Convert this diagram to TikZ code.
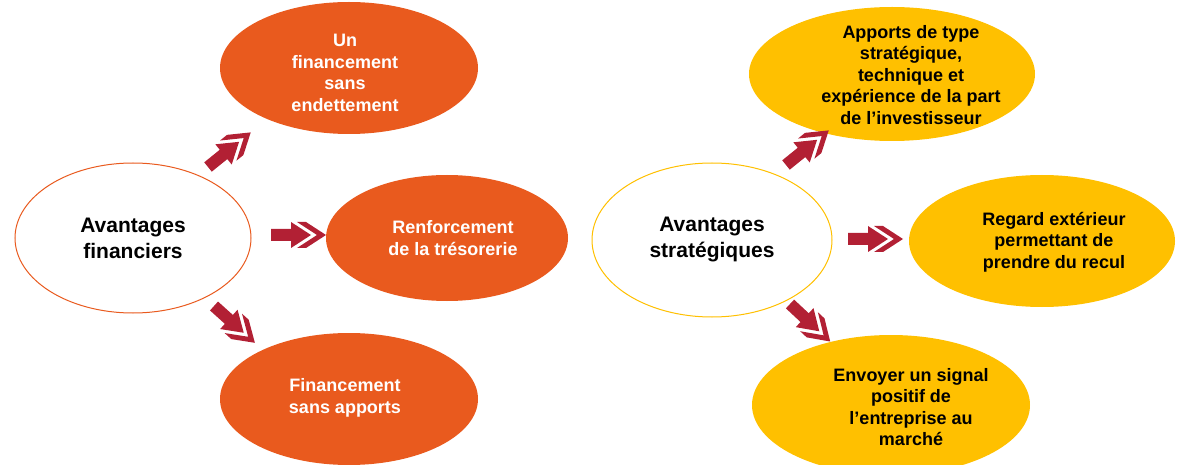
\documentclass[tikz,border=0pt]{standalone}
\usepackage{fontspec}
\setmainfont{Liberation Sans}
\usetikzlibrary{shapes.geometric}
\definecolor{orangeF}{RGB}{233,90,30}
\definecolor{yellowF}{RGB}{255,192,0}
\definecolor{arrowred}{RGB}{178,32,52}
\tikzset{
  bigtxt/.style={font=\bfseries\fontsize{21}{26}\selectfont, align=center, text=black},
  smalltxt/.style={font=\bfseries\fontsize{18}{21.5}\selectfont, align=center},
  whitetxt/.style={smalltxt, text=white},
  blacktxt/.style={smalltxt, text=black},
  oval/.style={ellipse, inner sep=0pt},
  whiteoval/.style={oval, draw, line width=1pt, fill=white},
  orangeoval/.style={oval, fill=orangeF},
  yellowoval/.style={oval, fill=yellowF},
  pics/dblarrow/.style={code={
    \fill[arrowred] (0,6) -- (20,6) -- (20,13) -- (40,0) -- (20,-13) -- (20,-6) -- (0,-6) -- cycle;
    \fill[arrowred] (26,13) -- (35,13) -- (55,0) -- (35,-13) -- (26,-13) -- (46,0) -- cycle;
  }}
}
\begin{document}
\begin{tikzpicture}[x=1pt,y=-1pt]
\useasboundingbox (0,0) rectangle (1189,465);
% left group
\node[whiteoval, draw=orangeF, minimum width=236, minimum height=150, bigtxt] (fin) at (133,238) {Avantages\\financiers};
\node[orangeoval, minimum width=258, minimum height=132] (sansdet) at (349,68) {};
\node[whitetxt] (sansdettxt) at (345,73) {Un\\financement\\sans\\endettement};
\node[orangeoval, minimum width=242, minimum height=126] (treso) at (447,238) {};
\node[whitetxt] (tresotxt) at (453,238) {Renforcement\\de la trésorerie};
\node[orangeoval, minimum width=258, minimum height=132] (apports) at (349,399) {};
\node[whitetxt] (apportstxt) at (345,398) {Financement\\sans apports};
% right group
\node[whiteoval, draw=yellowF, minimum width=240, minimum height=154, bigtxt] (strat) at (712,240) {Avantages\\stratégiques};
\node[yellowoval, minimum width=286, minimum height=134] (invest) at (892,74) {};
\node[blacktxt] (investtxt) at (911,75) {Apports de type\\stratégique,\\technique et\\expérience de la part\\de l’investisseur};
\node[yellowoval, minimum width=266, minimum height=132] (recul) at (1042,241) {};
\node[blacktxt] (recultxt) at (1054,242) {Regard extérieur\\permettant de\\prendre du recul};
\node[yellowoval, minimum width=278, minimum height=140] (signal) at (891,405) {};
\node[blacktxt] (signaltxt) at (911,407) {Envoyer un signal\\positif de\\l’entreprise au\\marché};
% arrows
\coordinate (a1) at (208,167);
\coordinate (a2) at (271,235);
\coordinate (a3) at (214,306);
\coordinate (b1) at (786,165);
\coordinate (b2) at (848,239);
\coordinate (b3) at (790,304);
\pic[rotate=39] at (a1) {dblarrow};
\pic at (a2) {dblarrow};
\pic[rotate=-42] at (a3) {dblarrow};
\pic[rotate=39] at (b1) {dblarrow};
\pic at (b2) {dblarrow};
\pic[rotate=-43] at (b3) {dblarrow};
\end{tikzpicture}
\end{document}
